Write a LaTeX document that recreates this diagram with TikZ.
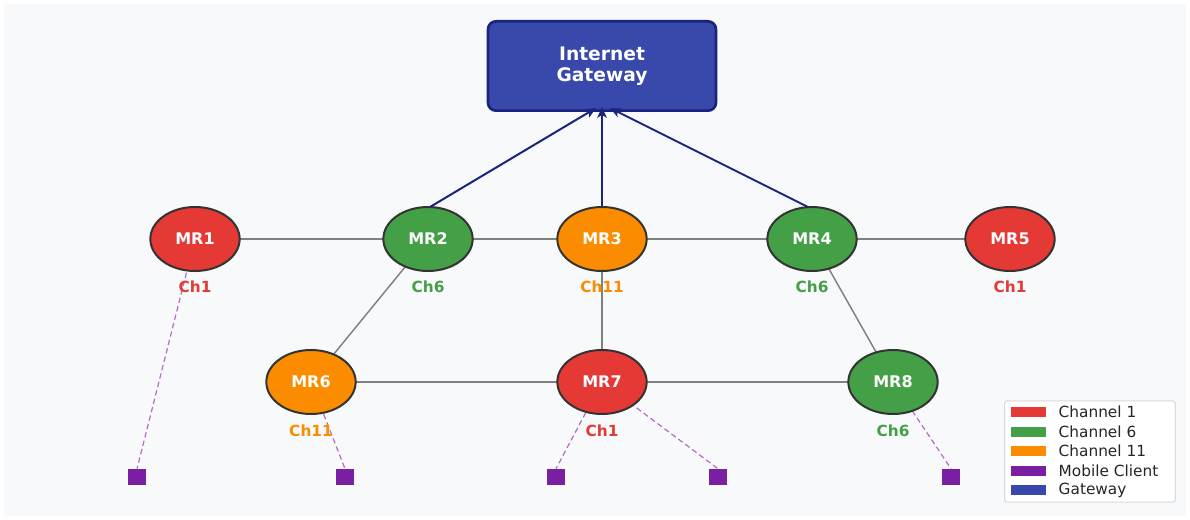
\documentclass[tikz,border=0pt]{standalone}
\usepackage{fontspec}
\setmainfont{DejaVu Sans}
\usetikzlibrary{arrows.meta,shapes.geometric}
\definecolor{bgc}{HTML}{F8F9FA}
\definecolor{chred}{HTML}{E53935}
\definecolor{chgreen}{HTML}{43A047}
\definecolor{chorange}{HTML}{FB8C00}
\definecolor{clpurple}{HTML}{7B1FA2}
\definecolor{gwblue}{HTML}{3949AB}
\definecolor{gwdark}{HTML}{1A237E}
\definecolor{nodeedge}{HTML}{333333}
\definecolor{linkgray}{HTML}{808080}
\definecolor{dashpurple}{HTML}{BA68C8}
\tikzset{
  router/.style={ellipse, draw=nodeedge, line width=1.5pt, minimum width=67pt, minimum height=48pt, inner sep=0pt, text=white, font=\bfseries\fontsize{12}{14}\selectfont},
  chlabel/.style={font=\bfseries\fontsize{11.5}{13}\selectfont},
  client/.style={rectangle, fill=clpurple, minimum width=14pt, minimum height=12pt, inner sep=0pt},
  link/.style={draw=linkgray, line width=1.1pt},
  uplink/.style={draw=gwdark, line width=1.5pt, -{Stealth[length=8pt,width=7pt,inset=2pt]}},
  clink/.style={draw=dashpurple, line width=0.9pt, dash pattern=on 4pt off 2.5pt},
  legpatch/.style={rectangle, minimum width=26pt, minimum height=8pt, inner sep=0pt},
  legtext/.style={anchor=west, font=\fontsize{11.5}{13}\selectfont, text=black!85}
}
\begin{document}
\begin{tikzpicture}[x=0.75pt,y=-0.75pt]
\useasboundingbox (0,0) rectangle (1190,520);
\fill[bgc] (4,4) rectangle (1186,516);
% gateway
\node[draw=gwdark, fill=gwblue, line width=2pt, rounded corners=6pt, minimum width=171pt, minimum height=67pt, text=white, align=center, font=\bfseries\fontsize{14}{16}\selectfont] (gw) at (602,66) {Internet\\Gateway};
% router positions
\coordinate (c1) at (195,239);
\coordinate (c2) at (428,239);
\coordinate (c3) at (602,239);
\coordinate (c4) at (812,239);
\coordinate (c5) at (1010,239);
\coordinate (c6) at (311,382);
\coordinate (c7) at (602,382);
\coordinate (c8) at (893,382);
% clients
\node[client] (k1) at (137,477) {};
\node[client] (k2) at (345,477) {};
\node[client] (k3) at (556,477) {};
\node[client] (k4) at (718,477) {};
\node[client] (k5) at (951,477) {};
% links behind
\draw[link] (c1) -- (c2);
\draw[link] (c2) -- (c3);
\draw[link] (c3) -- (c4);
\draw[link] (c4) -- (c5);
\draw[link] (c2) -- (c6);
\draw[link] (c3) -- (c7);
\draw[link] (c4) -- (c8);
\draw[link] (c6) -- (c7);
\draw[link] (c7) -- (c8);
\draw[clink] (c1) -- (k1.north);
\draw[clink] (c6) -- (k2.north);
\draw[clink] (c7) -- (k3.north);
\draw[clink] (c7) -- (k4.north);
\draw[clink] (c8) -- (k5.north);
% router nodes
\node[router, fill=chred] (mr1) at (c1) {MR1};
\node[router, fill=chgreen] (mr2) at (c2) {MR2};
\node[router, fill=chorange] (mr3) at (c3) {MR3};
\node[router, fill=chgreen] (mr4) at (c4) {MR4};
\node[router, fill=chred] (mr5) at (c5) {MR5};
\node[router, fill=chorange] (mr6) at (c6) {MR6};
\node[router, fill=chred] (mr7) at (c7) {MR7};
\node[router, fill=chgreen] (mr8) at (c8) {MR8};
% channel labels
\node[chlabel, text=chred] (l1) at (195,287) {Ch1};
\node[chlabel, text=chgreen] (l2) at (428,287) {Ch6};
\node[chlabel, text=chorange] (l3) at (602,287) {Ch11};
\node[chlabel, text=chgreen] (l4) at (812,287) {Ch6};
\node[chlabel, text=chred] (l5) at (1010,287) {Ch1};
\node[chlabel, text=chorange] (l6) at (311,431) {Ch11};
\node[chlabel, text=chred] (l7) at (602,431) {Ch1};
\node[chlabel, text=chgreen] (l8) at (893,431) {Ch6};
% uplinks
\coordinate (g2) at (596,108);
\coordinate (g3) at (602,107);
\coordinate (g4) at (610,108);
\draw[uplink] (mr2.north) ++(2,1) -- (g2);
\draw[uplink] (mr3.north) -- (g3);
\draw[uplink] (mr4.north) ++(-4,1) -- (g4);
% legend
\node[draw=black!15, fill=white, rounded corners=2pt, line width=0.8pt, minimum width=128pt, minimum height=76pt, inner sep=0pt] (leg) at (1090,451.5) {};
\node[legpatch, fill=chred] (p1) at (1028.5,412) {};
\node[legpatch, fill=chgreen] (p2) at (1028.5,432) {};
\node[legpatch, fill=chorange] (p3) at (1028.5,451) {};
\node[legpatch, fill=clpurple] (p4) at (1028.5,471) {};
\node[legpatch, fill=gwblue] (p5) at (1028.5,490) {};
\node[legtext] (t1) at (1054,412) {Channel 1};
\node[legtext] (t2) at (1054,432) {Channel 6};
\node[legtext] (t3) at (1054,451) {Channel 11};
\node[legtext] (t4) at (1054,471) {Mobile Client};
\node[legtext] (t5) at (1054,490) {Gateway};
\end{tikzpicture}
\end{document}
